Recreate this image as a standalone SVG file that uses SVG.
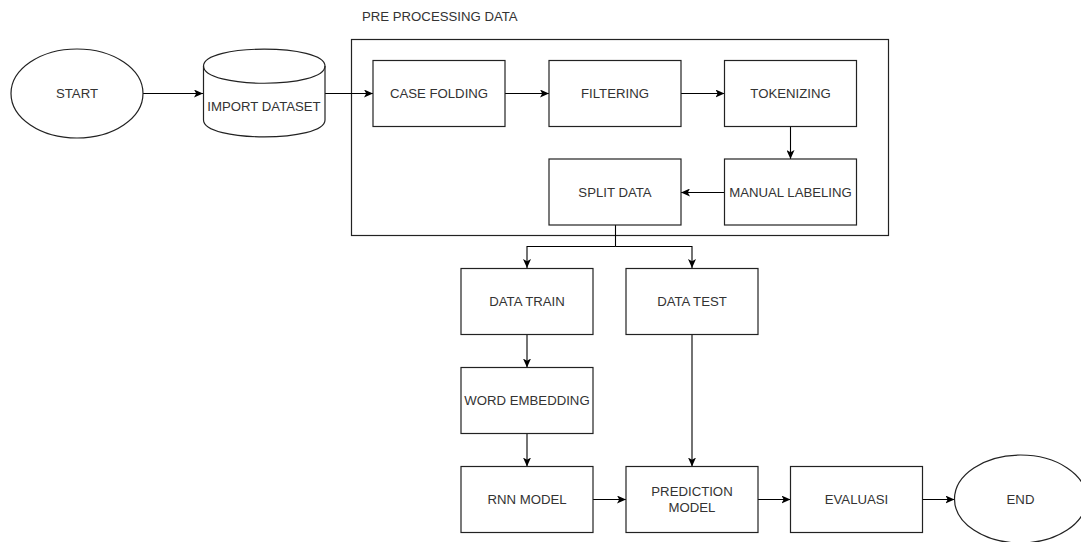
<svg xmlns="http://www.w3.org/2000/svg" width="1081" height="542" viewBox="0 0 1081 542">
<defs>
<marker id="arr" viewBox="0 0 9 8" refX="9" refY="4" markerWidth="9" markerHeight="8" markerUnits="userSpaceOnUse" orient="auto">
<path d="M0,0 L9,4 L0,8 L2.2,4 Z" fill="#000"/>
</marker>
<style>
.shape{fill:#fff;stroke:#222;stroke-width:1.2}
.group{fill:none;stroke:#222;stroke-width:1.2}
.lbl{font-family:"Liberation Sans",Arial,sans-serif;font-size:13.2px;fill:#333;text-anchor:middle}
.title{font-family:"Liberation Sans",Arial,sans-serif;font-size:13.2px;fill:#333}
.edge{fill:none;stroke:#000;stroke-width:1.1;marker-end:url(#arr)}
.line{fill:none;stroke:#000;stroke-width:1.1}
</style>
</defs>
<rect width="1081" height="542" fill="#fff"/>

<g id="group-preprocessing">
<rect class="group" x="351.5" y="39.5" width="537" height="196"/>
<text class="title" x="362" y="21">PRE PROCESSING DATA</text>
</g>

<g id="connectors">
<path class="edge" d="M143,93.5 L203,93.5"/>
<path class="edge" d="M325,93.5 L373,93.5"/>
<path class="edge" d="M505,93.5 L549,93.5"/>
<path class="edge" d="M681,93.5 L724.5,93.5"/>
<path class="edge" d="M790.5,126 L790.5,159"/>
<path class="edge" d="M724.5,192.5 L681,192.5"/>
<path class="line" d="M615.5,225 L615.5,246.5"/>
<path class="edge" d="M615.5,246.5 L527,246.5 L527,268"/>
<path class="edge" d="M615.5,246.5 L692,246.5 L692,268"/>
<path class="edge" d="M527,335 L527,367.5"/>
<path class="edge" d="M527,433.5 L527,466.5"/>
<path class="edge" d="M692,335 L692,466.5"/>
<path class="edge" d="M593,499.5 L626,499.5"/>
<path class="edge" d="M758,499.5 L790.5,499.5"/>
<path class="edge" d="M922.5,499.5 L954.5,499.5"/>
</g>

<g id="node-start">
<ellipse class="shape" cx="77" cy="93.5" rx="66" ry="44.5"/>
<text class="lbl" x="77" y="98">START</text>
</g>

<g id="node-import">
<path class="shape" d="M203.5,66 C203.5,43.5 325,43.5 325,66 L325,120 C325,142.5 203.5,142.5 203.5,120 Z"/>
<path class="shape" style="fill:none" d="M203.5,66 C203.5,89 325,89 325,66"/>
<text class="lbl" x="264" y="110.5">IMPORT DATASET</text>
</g>

<g id="node-casefolding">
<rect class="shape" x="373" y="60.5" width="132" height="66"/>
<text class="lbl" x="439" y="98">CASE FOLDING</text>
</g>

<g id="node-filtering">
<rect class="shape" x="549" y="60.5" width="132" height="66"/>
<text class="lbl" x="615" y="98">FILTERING</text>
</g>

<g id="node-tokenizing">
<rect class="shape" x="724.5" y="60.5" width="132" height="66"/>
<text class="lbl" x="790.5" y="98">TOKENIZING</text>
</g>

<g id="node-manual">
<rect class="shape" x="724.5" y="159" width="132" height="66"/>
<text class="lbl" x="790.5" y="197">MANUAL LABELING</text>
</g>

<g id="node-split">
<rect class="shape" x="549" y="159" width="132" height="66"/>
<text class="lbl" x="615" y="197">SPLIT DATA</text>
</g>

<g id="node-datatrain">
<rect class="shape" x="461" y="268.5" width="132" height="66"/>
<text class="lbl" x="527" y="306">DATA TRAIN</text>
</g>

<g id="node-datatest">
<rect class="shape" x="626" y="268.5" width="132" height="66"/>
<text class="lbl" x="692" y="306">DATA TEST</text>
</g>

<g id="node-wordembedding">
<rect class="shape" x="461" y="367.5" width="132" height="66"/>
<text class="lbl" x="527" y="405">WORD EMBEDDING</text>
</g>

<g id="node-rnn">
<rect class="shape" x="461" y="466.5" width="132" height="66"/>
<text class="lbl" x="527" y="504">RNN MODEL</text>
</g>

<g id="node-prediction">
<rect class="shape" x="626" y="466.5" width="132" height="66"/>
<text class="lbl" x="692" y="495.5">PREDICTION</text>
<text class="lbl" x="692" y="511.5">MODEL</text>
</g>

<g id="node-evaluasi">
<rect class="shape" x="790.5" y="466.5" width="132" height="66"/>
<text class="lbl" x="856.5" y="504">EVALUASI</text>
</g>

<g id="node-end">
<ellipse class="shape" cx="1020.5" cy="499" rx="66" ry="44"/>
<text class="lbl" x="1020.5" y="503.5">END</text>
</g>
</svg>
